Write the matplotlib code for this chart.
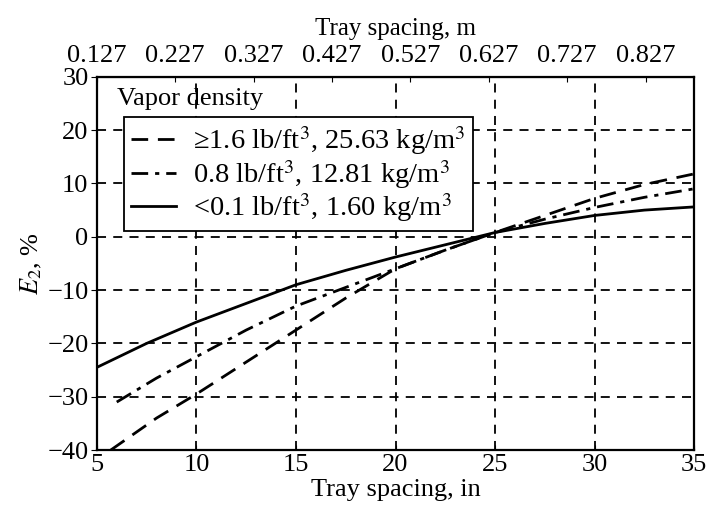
import numpy as np
import matplotlib
matplotlib.use("Agg")
import matplotlib.pyplot as plt

plt.rcParams['font.family'] = ['Liberation Serif', 'DejaVu Serif']
plt.rcParams['mathtext.fontset'] = 'stix'

# E2 correction vs tray spacing (inches), one curve per vapour density
x_high = [5.7, 8, 10, 12.5, 15, 17.5, 20, 22.5, 25, 27.5, 30, 32.5, 35]
e_high = [-40, -34, -29.5, -23.5, -17.5, -11.5, -6, -2.5, 0.8, 4, 7.2, 9.8, 11.8]

x_mid = [6, 8, 10, 12.5, 15, 17.5, 20, 22.5, 25, 27.5, 30, 32.5, 35]
e_mid = [-31, -26.5, -22.5, -17.5, -13, -9.5, -6, -2.5, 0.8, 3.3, 5.5, 7.4, 9.0]

x_low = [5, 7.5, 10, 12.5, 15, 17.5, 20, 22.5, 25, 27.5, 30, 32.5, 35]
e_low = [-24.5, -20, -16, -12.5, -9, -6.3, -3.8, -1.5, 0.8, 2.5, 4, 5, 5.6]

labels = [r"≥1.6 lb/ft$^3$, 25.63 kg/m$^3$",
          r"0.8 lb/ft$^3$, 12.81 kg/m$^3$",
          r"<0.1 lb/ft$^3$, 1.60 kg/m$^3$"]

top_ticks = [0.127, 0.227, 0.327, 0.427, 0.527, 0.627, 0.727, 0.827]
top_labels = ["0.127", "0.227", "0.327", "0.427", "0.527", "0.627", "0.727", "0.827"]

fs = 19

fig = plt.figure(figsize=(7.12, 5.12), dpi=100)
ax = fig.add_axes([0.136, 0.121, 0.839, 0.729])

ax.plot(x_high, e_high, color='k', lw=2.0, ls=(0, (6, 3.5)), label=labels[0])
ax.plot(x_mid, e_mid, color='k', lw=2.0, ls=(0, (6, 2.5, 1.5, 2.5)), label=labels[1])
ax.plot(x_low, e_low, color='k', lw=2.0, ls='-', label=labels[2])

ax.set_xlim(5, 35)
ax.set_ylim(-40, 30)
ax.set_xticks([5, 10, 15, 20, 25, 30, 35])
ax.set_yticks([-40, -30, -20, -10, 0, 10, 20, 30])
ax.grid(True, color='k', ls=(0, (5, 4)), lw=1.3)
ax.tick_params(axis='x', direction='in', labelsize=fs, pad=3)
ax.tick_params(axis='y', direction='out', labelsize=fs, length=4, pad=2)
for s in ax.spines.values():
    s.set_linewidth(1.6)

ax.set_xlabel("Tray spacing, in", fontsize=fs, labelpad=2)
ax.set_ylabel(r"$E_2$, %", fontsize=fs, labelpad=2)

top = ax.secondary_xaxis('top', functions=(lambda v: v * 0.0254, lambda v: v / 0.0254))
top.set_xticks(top_ticks)
top.set_xticklabels(top_labels)
top.tick_params(direction='in', labelsize=fs, pad=7)
top.set_xlabel("Tray spacing, m", fontsize=18, labelpad=7)

ax.text(0.033, 0.94, "Vapor density", transform=ax.transAxes, fontsize=fs,
        ha='left', va='center')
leg = ax.legend(loc='upper left', bbox_to_anchor=(0.045, 0.892), fontsize=20.5,
                handlelength=1.6, handletextpad=0.6, fancybox=False, framealpha=1,
                edgecolor='k', borderaxespad=0, labelspacing=0.02, borderpad=0.25)
leg.get_frame().set_linewidth(1.3)

fig.savefig("out.png", dpi=100)
